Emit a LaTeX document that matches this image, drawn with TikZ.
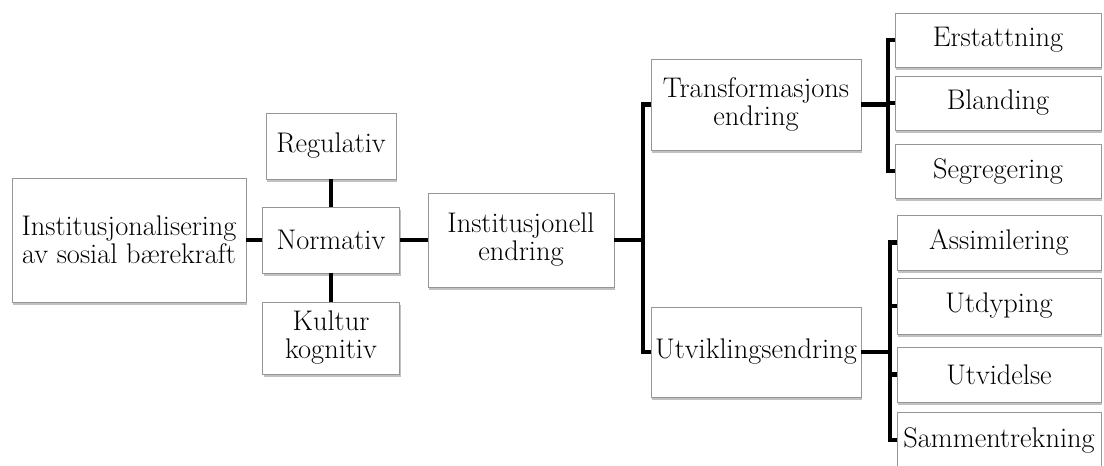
\documentclass[tikz,border=0pt]{standalone}
\usetikzlibrary{shadows}

\tikzset{every picture/.style={line width=0.75pt}}
\tikzset{
	boks/.style={draw={rgb, 255:red, 150; green, 150; blue, 150}, line width=0.6pt, fill=white, inner sep=1pt, align=center,
		font=\fontsize{21.3}{21}\selectfont,
		drop shadow={shadow xshift=1pt, shadow yshift=-2pt, opacity=0.35, fill=black!70}},
	ledd/.style={line width=3.5pt, line join=miter}}

\begin{document}
\begin{tikzpicture}[x=0.75pt,y=0.75pt,yscale=-1,xscale=1]
	%set diagram to the size of the reference
	\useasboundingbox (0,0) rectangle (1104,466);

	%Shape: Rectangle [id:inst] 
	\node [boks, minimum width=175.5pt, minimum height=93pt] (inst) at (129,240) {Institusjonalisering\\av sosial bærekraft};
	%Shape: Rectangle [id:reg] 
	\node [boks, minimum width=97.5pt, minimum height=49.5pt] (reg) at (331,146) {Regulativ};
	%Shape: Rectangle [id:norm] 
	\node [boks, minimum width=102.75pt, minimum height=49.5pt] (norm) at (331,240) {Normativ};
	%Shape: Rectangle [id:kult] 
	\node [boks, minimum width=102.75pt, minimum height=54pt] (kult) at (331,338) {Kultur\\kognitiv};
	%Shape: Rectangle [id:inend] 
	\node [boks, minimum width=139.5pt, minimum height=70.5pt] (inend) at (521,240) {Institusjonell\\endring};

	%Shape: Rectangle [id:trans] 
	\node [boks, minimum width=157.5pt, minimum height=68.25pt] (trans) at (756,104.5) {Transformasjons\\endring};
	%Shape: Rectangle [id:utv] 
	\node [boks, minimum width=157.5pt, minimum height=67.5pt] (utv) at (756,352) {Utviklingsendring};

	%Shape: Rectangle [id:erst] 
	\node [boks, minimum width=154.5pt, minimum height=40.5pt] (erst) at (998,40) {Erstattning};
	%Shape: Rectangle [id:bland] 
	\node [boks, minimum width=154.5pt, minimum height=40.5pt] (bland) at (998,103) {Blanding};
	%Shape: Rectangle [id:segr] 
	\node [boks, minimum width=154.5pt, minimum height=40.5pt] (segr) at (998,171) {Segregering};

	%Shape: Rectangle [id:assim] 
	\node [boks, minimum width=153pt, minimum height=41.25pt] (assim) at (999,242.5) {Assimilering};
	%Shape: Rectangle [id:utdy] 
	\node [boks, minimum width=153pt, minimum height=42pt] (utdy) at (999,306) {Utdyping};
	%Shape: Rectangle [id:utvid] 
	\node [boks, minimum width=153pt, minimum height=41.25pt] (utvid) at (999,374.5) {Utvidelse};
	%Shape: Rectangle [id:samm] 
	\node [boks, minimum width=153pt, minimum height=42pt] (samm) at (999,440) {Sammentrekning};

	%Straight Lines
	\draw [ledd] (inst) -- (norm);
	\draw [ledd] (reg) -- (norm);
	\draw [ledd] (norm) -- (kult);
	\draw [ledd] (norm) -- (inend);

	\coordinate (skinneA) at (643,240);
	\draw [ledd] (inend.east) -- (skinneA);
	\draw [ledd] (trans.west) -| (skinneA) |- (utv.west);

	\coordinate (skinneB) at (888,104.5);
	\draw [ledd] (trans.east) -- (skinneB);
	\draw [ledd] (erst.west) -| (skinneB) |- (segr.west);
	\draw [ledd] (bland.west) -- (bland.west -| skinneB);

	\coordinate (skinneC) at (890,352);
	\draw [ledd] (utv.east) -- (skinneC);
	\draw [ledd] (assim.west) -| (skinneC) |- (samm.west);
	\draw [ledd] (utdy.west) -- (utdy.west -| skinneC);
	\draw [ledd] (utvid.west) -- (utvid.west -| skinneC);

\end{tikzpicture}
\end{document}
